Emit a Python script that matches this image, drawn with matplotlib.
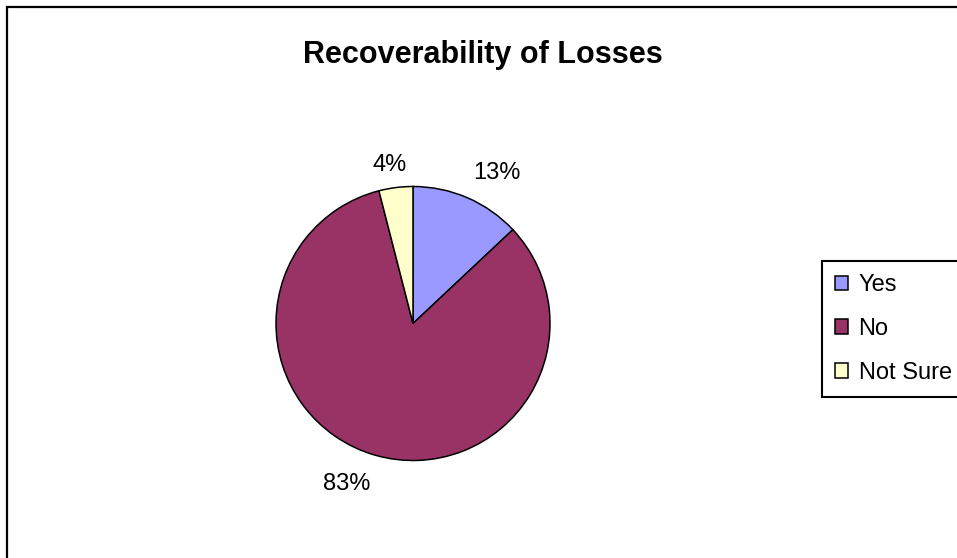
import numpy as np
import matplotlib.pyplot as plt
from matplotlib.patches import Rectangle, Patch

# ==================================================
# DATA
# ==================================================

categories = ["Yes", "No", "Not Sure"]
shares = [13, 83, 4]
colors = ["#9999FF", "#993366", "#FFFFCC"]

W, H = 957, 558
DPI = 100

plt.rcParams["font.family"] = ["Liberation Sans", "DejaVu Sans"]

fig = plt.figure(figsize=(W / DPI, H / DPI), dpi=DPI)
fig.patch.set_facecolor("white")

# chart border (only left/top edges fall inside the canvas)
fig.add_artist(Rectangle(
    (7.5 / W, -0.1), 2.0, 1 - 7.5 / H + 0.1,
    transform=fig.transFigure,
    fill=False, edgecolor="black", linewidth=1.6
))

# ==================================================
# PIE
# ==================================================

cx, cy, r = 413, 323.5, 137
pad = 1.03
size = 2 * r * pad
ax = fig.add_axes([
    (cx - r * pad) / W,
    (H - cy - r * pad) / H,
    size / W,
    size / H
])

wedges, texts, autotexts = ax.pie(
    shares,
    colors=colors,
    startangle=90,
    counterclock=False,
    autopct="%1.0f%%",
    pctdistance=1.26,
    wedgeprops=dict(edgecolor="black", linewidth=1.1),
    textprops=dict(fontsize=17, color="black"),
)

# nudge the percentage labels to best-fit spots around each slice
label_dist = [1.26, 1.27, 1.17]
label_shift = [-5.7, -6.2, 1.1]
for w, t, d, s in zip(wedges, autotexts, label_dist, label_shift):
    mid = np.deg2rad((w.theta1 + w.theta2) / 2 + s)
    t.set_position((d * np.cos(mid), d * np.sin(mid)))
    t.set_ha("center")
    t.set_va("center")

ax.set_xlim(-pad, pad)
ax.set_ylim(-pad, pad)
ax.set_aspect("equal")
ax.axis("off")

# ==================================================
# TITLE
# ==================================================

fig.text(
    483 / W, 1 - 55 / H,
    "Recoverability of Losses",
    ha="center", va="center",
    fontsize=22, fontweight="bold"
)

# ==================================================
# LEGEND
# ==================================================

handles = [
    Patch(facecolor=c, edgecolor="black", linewidth=1.1)
    for c in colors
]

leg = fig.legend(
    handles, categories,
    loc="upper left",
    bbox_to_anchor=(822 / W, 1 - 261 / H),
    borderaxespad=0,
    frameon=True,
    fancybox=False,
    framealpha=1,
    edgecolor="black",
    fontsize=17,
    handlelength=0.55,
    handleheight=0.55,
    handletextpad=0.45,
    borderpad=0.55,
    labelspacing=0.93,
)
leg.get_frame().set_linewidth(1.5)

fig.savefig("out.png", dpi=DPI)
